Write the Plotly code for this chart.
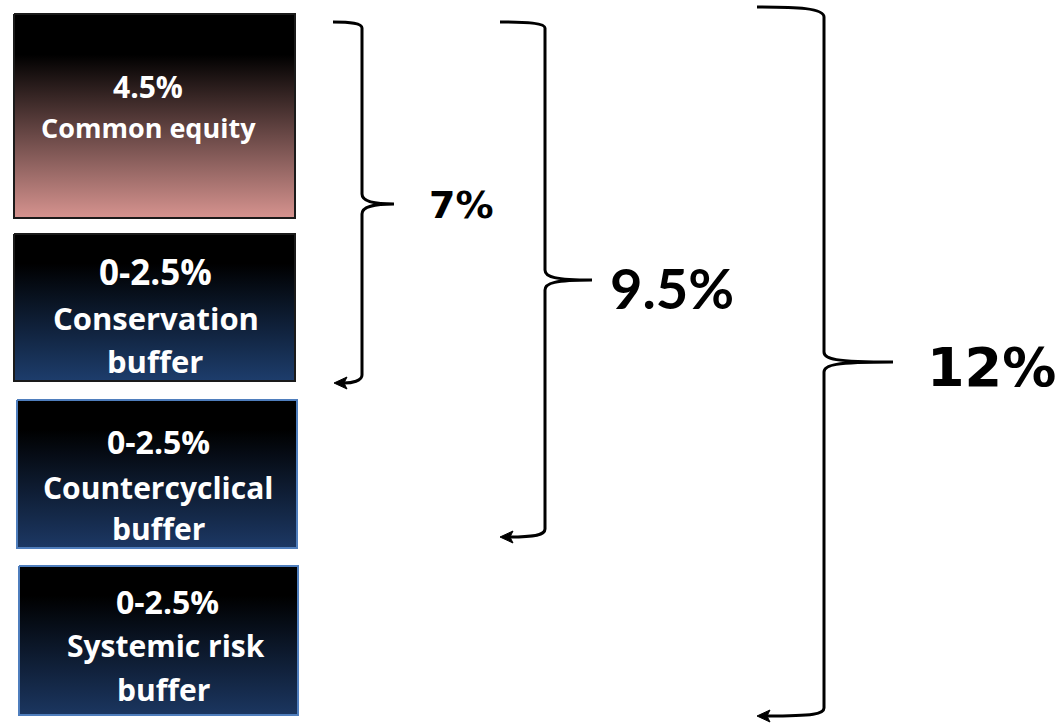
import plotly.graph_objects as go

# Capital requirement tiers (rate + name, name split into display lines)
tier_rates = ["4.5%", "0-2.5%", "0-2.5%", "0-2.5%"]
tier_names = [["Common equity"],
              ["Conservation", "buffer"],
              ["Countercyclical", "buffer"],
              ["Systemic risk", "buffer"]]
# Cumulative totals reached by each brace
cumulative_totals = ["7%", "9.5%", "12%"]

W, H = 1063, 725
FONT = "Open Sans"

# Box layout (pixel space): x0, x1, y0, y1
box_geom = [(14, 295, 14, 218), (14, 295, 234, 381), (17, 297, 400, 548), (19, 298, 566, 715)]
box_bottom_color = ["#D6938F", "#1D3D6C", "#1C3864", "#1B3660"]
box_black_stop = [0.2, 0.2, 0.2, 0.2]
box_border = ["#1a1a1a", "#1a1a1a", "#4F7EBD", "#4F7EBD"]
# text line centres for each box: (x, y, size)
rate_pos = [(148, 86, 30), (155, 271, 35), (158, 441, 32), (167, 601, 32)]
name_pos = [[(148, 127, 27)],
            [(156, 318, 31), (155, 361, 31)],
            [(158, 487, 30), (158, 528, 30)],
            [(166, 645, 30), (163, 689, 30)]]

fig = go.Figure()
annotations = []
shapes = []

for i, (x0, x1, y0, y1) in enumerate(box_geom):
    fig.add_trace(go.Scatter(
        x=[x0, x1, x1, x0, x0], y=[y0, y0, y1, y1, y0],
        mode="lines", fill="toself",
        line=dict(color=box_border[i], width=2),
        fillgradient=dict(type="vertical", start=y0, stop=y1,
                          colorscale=[[0, "#000000"], [box_black_stop[i], "#000000"],
                                      [1, box_bottom_color[i]]]),
        hoverinfo="skip", showlegend=False))
    rx, ry, rs = rate_pos[i]
    annotations.append(dict(x=rx, y=ry, text=tier_rates[i], showarrow=False,
                            xanchor="center", yanchor="middle",
                            font=dict(family=FONT, size=rs, color="white", weight="bold")))
    for line, (nx, ny, ns) in zip(tier_names[i], name_pos[i]):
        annotations.append(dict(x=nx, y=ny, text=line, showarrow=False,
                                xanchor="center", yanchor="middle",
                                font=dict(family=FONT, size=ns, color="white", weight="bold")))

# Braces: (start x, top y, spine x, tip x, tip y, bottom y, arrow tip x, top curve drop)
brace_geom = [(333, 22, 362, 394, 204, 383, 334, 6),
              (500, 22, 545, 592, 280, 537, 500, 6),
              (757, 7, 824, 893, 362, 716, 757, 10)]
label_pos = [(461, 205, 38, "DejaVu Sans"), (672, 287, 56, "Lato"), (991, 367, 54, "DejaVu Sans")]

for i, (sx, ty, px, tx, my, by, ax, d) in enumerate(brace_geom):
    path = (f"M {sx} {ty} C {sx + (px - sx) * 0.6} {ty}, {px} {ty + 1}, {px} {ty + d} "
            f"L {px} {my - 10} C {px} {my - 3}, {px + 10} {my}, {tx} {my} "
            f"M {tx} {my} C {px + 10} {my}, {px} {my + 3}, {px} {my + 10} "
            f"L {px} {by - 8} C {px} {by - 2}, {px - 10} {by}, {ax + 10} {by}")
    shapes.append(dict(type="path", path=path, xref="x", yref="y",
                       line=dict(color="black", width=3)))
    head = f"M {ax} {by} L {ax + 13} {by - 6} L {ax + 10} {by} L {ax + 13} {by + 6} Z"
    shapes.append(dict(type="path", path=head, xref="x", yref="y",
                       fillcolor="black", line=dict(color="black", width=1)))
    lx, ly, ls, lf = label_pos[i]
    annotations.append(dict(x=lx, y=ly, text=cumulative_totals[i], showarrow=False,
                            xanchor="center", yanchor="middle",
                            font=dict(family=lf, size=ls, color="black", weight="bold")))

fig.update_layout(
    width=W, height=H, margin=dict(l=0, r=0, t=0, b=0),
    paper_bgcolor="white", plot_bgcolor="white",
    xaxis=dict(range=[0, W], visible=False, fixedrange=True),
    yaxis=dict(range=[H, 0], visible=False, fixedrange=True),
    shapes=shapes, annotations=annotations, showlegend=False)

fig.write_html("out.html")
